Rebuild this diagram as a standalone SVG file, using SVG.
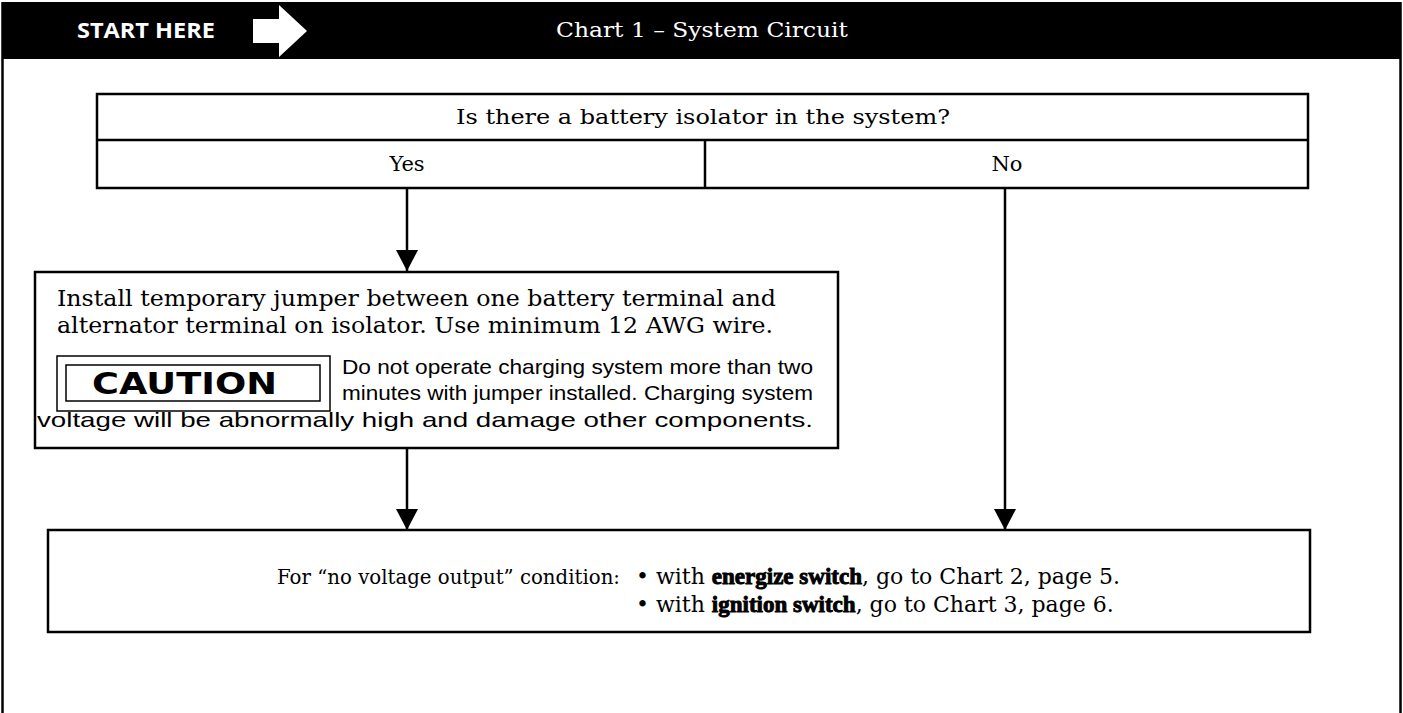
<svg xmlns="http://www.w3.org/2000/svg" width="1403" height="713" viewBox="0 0 1403 713">
<defs>
<style>
.box{fill:#fff;stroke:#000;stroke-width:2.5}
.ln{stroke:#000;stroke-width:2.5;fill:none}
.book{font-family:"DejaVu Serif","Liberation Serif",serif;fill:#000}
.sans{font-family:"Liberation Sans",Arial,sans-serif;font-size:21px;fill:#000}
.heavy{font-family:"Liberation Serif",serif;font-weight:bold;stroke:#000;stroke-width:0.9}
</style>
<marker id="ah" viewBox="0 0 21 22" refX="21" refY="11" markerWidth="21" markerHeight="22" markerUnits="userSpaceOnUse" orient="auto">
<path d="M0,0 L21,11 L0,22 Z" fill="#000"/>
</marker>
</defs>
<rect x="0" y="0" width="1403" height="713" fill="#fff"/>
<g id="frame">
<rect x="2" y="2" width="1399" height="57" fill="#000"/>
<line x1="2.5" y1="2" x2="2.5" y2="713" class="ln"/>
<line x1="1400.5" y1="2" x2="1400.5" y2="713" class="ln"/>
</g>
<g id="header">
<text x="77" y="38" font-family="'Open Sans','Liberation Sans',sans-serif" font-weight="bold" font-size="21" fill="#fff" textLength="138" lengthAdjust="spacingAndGlyphs">START HERE</text>
<path d="M253,19 L279,19 L279,5 L307,31 L279,57 L279,43 L253,43 Z" fill="#fff"/>
<text x="556" y="37" class="book" font-size="21" style="fill:#fff" textLength="292" lengthAdjust="spacingAndGlyphs">Chart 1 – System Circuit</text>
</g>
<g id="question">
<rect x="97" y="94" width="1211" height="94" class="box"/>
<line x1="97" y1="140" x2="1308" y2="140" class="ln"/>
<line x1="705" y1="140" x2="705" y2="188" class="ln"/>
<text x="456" y="124" class="book" font-size="21" textLength="494" lengthAdjust="spacingAndGlyphs">Is there a battery isolator in the system?</text>
<text x="407" y="171" text-anchor="middle" class="book" font-size="21">Yes</text>
<text x="1007" y="171" text-anchor="middle" class="book" font-size="21">No</text>
</g>
<g id="install">
<rect x="35" y="272" width="803" height="176" class="box"/>
<text x="57" y="306" class="book" font-size="22" textLength="719" lengthAdjust="spacingAndGlyphs">Install temporary jumper between one battery terminal and</text>
<text x="57" y="333" class="book" font-size="22" textLength="716" lengthAdjust="spacingAndGlyphs">alternator terminal on isolator. Use minimum 12 AWG wire.</text>
<rect x="57" y="356" width="273" height="55" fill="none" stroke="#000" stroke-width="1.5"/>
<rect x="66" y="365" width="254" height="36" fill="none" stroke="#000" stroke-width="1.5"/>
<text x="92" y="394" font-family="'DejaVu Sans','Liberation Sans',sans-serif" font-weight="bold" font-size="30" fill="#000" textLength="185" lengthAdjust="spacingAndGlyphs">CAUTION</text>
<text x="342" y="374" class="sans" textLength="471" lengthAdjust="spacingAndGlyphs">Do not operate charging system more than two</text>
<text x="342" y="400" class="sans" textLength="471" lengthAdjust="spacingAndGlyphs">minutes with jumper installed. Charging system</text>
<text x="37" y="427" class="sans" textLength="776" lengthAdjust="spacingAndGlyphs">voltage will be abnormally high and damage other components.</text>
</g>
<g id="result">
<rect x="48" y="530" width="1262" height="102" class="box"/>
<text x="277" y="584" class="book" font-size="21" textLength="343" lengthAdjust="spacingAndGlyphs">For “no voltage output” condition:</text>
<text x="636" y="584" class="book" font-size="22">• with <tspan class="heavy" font-size="23">energize switch</tspan>, go to Chart 2, page 5.</text>
<text x="636" y="612" class="book" font-size="22">• with <tspan class="heavy" font-size="23">ignition switch</tspan>, go to Chart 3, page 6.</text>
</g>
<g id="connectors">
<line x1="407" y1="188" x2="407" y2="271" class="ln" marker-end="url(#ah)"/>
<line x1="1005" y1="188" x2="1005" y2="530" class="ln" marker-end="url(#ah)"/>
<line x1="407" y1="448" x2="407" y2="530" class="ln" marker-end="url(#ah)"/>
</g>
</svg>
